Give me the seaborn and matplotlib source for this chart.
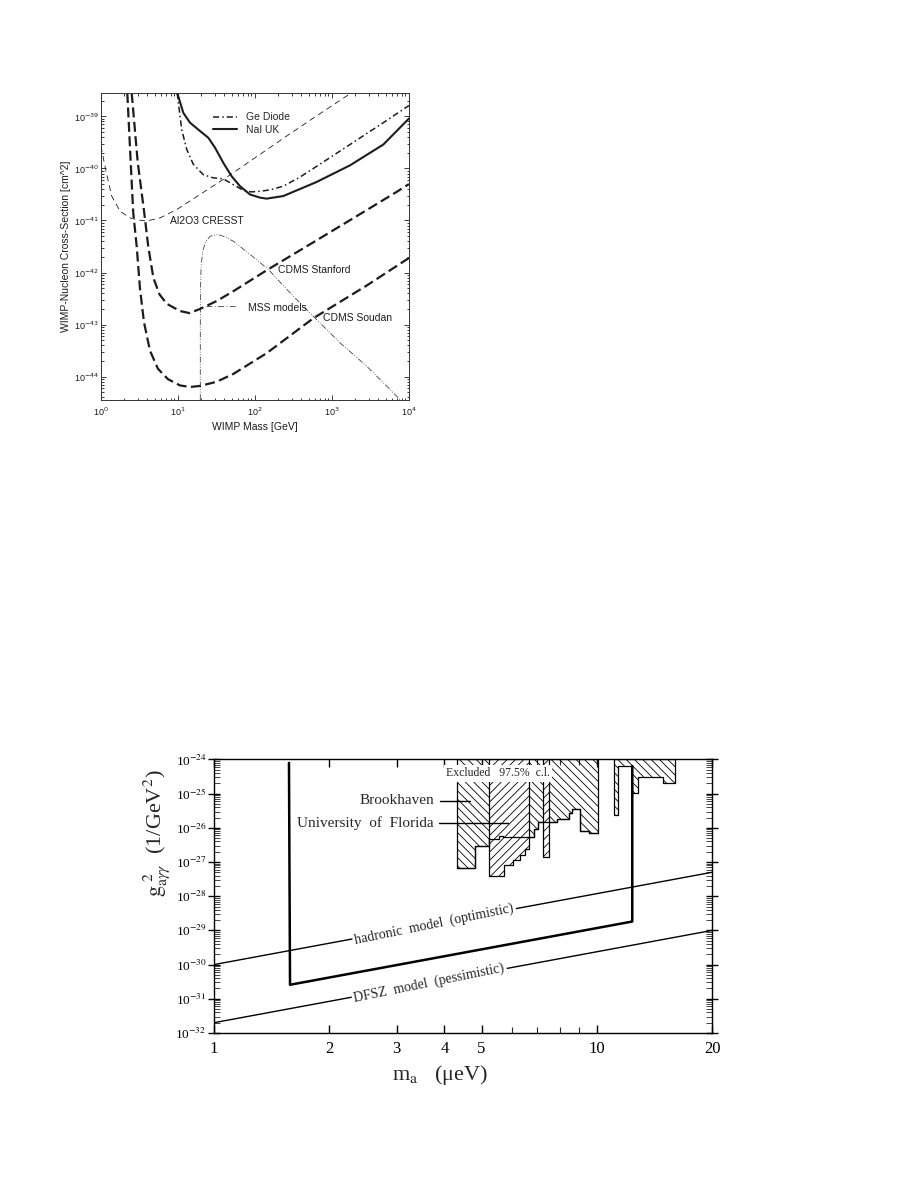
import numpy as np
import matplotlib
matplotlib.use("Agg")
import matplotlib.pyplot as plt
import seaborn as sns
from matplotlib.lines import Line2D
from matplotlib.ticker import LogLocator, FixedLocator, NullFormatter

# ---------------- top panel: WIMP limits ----------------
# log10(mass / GeV) and log10(cross-section / cm^2)
ge_log_m = [0.99, 1.048, 1.113, 1.199, 1.329, 1.458, 1.588, 1.718, 1.848, 1.95, 2.065,
            2.2, 2.368, 2.58, 2.80, 3.234, 3.667, 4.0]
ge_log_s = [-38.55, -39.25, -39.63, -39.92, -40.12, -40.18, -40.2, -40.31, -40.42, -40.45,
            -40.44, -40.41, -40.34, -40.17, -39.96, -39.54, -39.12, -38.79]

nai_log_m = [0.991, 1.069, 1.156, 1.286, 1.394, 1.481, 1.588, 1.697, 1.805, 1.935, 2.065,
             2.152, 2.368, 2.80, 3.234, 3.667, 4.0]
nai_log_s = [-38.55, -38.93, -39.12, -39.28, -39.41, -39.60, -39.89, -40.15, -40.34, -40.50,
             -40.56, -40.58, -40.53, -40.26, -39.94, -39.54, -39.04]

cresst_log_m = [0.0, 0.052, 0.139, 0.247, 0.377, 0.48, 0.594, 0.766, 0.983, 1.286, 1.61,
                2.065, 2.368, 2.80, 3.28]
cresst_log_s = [-39.57, -39.96, -40.53, -40.82, -40.95, -40.99, -41.01, -40.95, -40.79,
                -40.5, -40.19, -39.73, -39.42, -38.99, -38.52]

stanford_log_m = [0.399, 0.477, 0.562, 0.614, 0.68, 0.76, 0.853, 1.026, 1.15, 1.286, 1.5,
                  1.718, 2.17, 2.757, 3.451, 3.84, 4.0]
stanford_log_s = [-38.55, -39.88, -40.85, -41.50, -42.1, -42.42, -42.6, -42.74, -42.78,
                  -42.7, -42.55, -42.36, -41.94, -41.42, -40.80, -40.45, -40.30]

soudan_log_m = [0.342, 0.386, 0.419, 0.464, 0.506, 0.558, 0.636, 0.740, 0.870, 1.026, 1.156,
                1.286, 1.5, 1.718, 2.152, 2.757, 3.451, 4.0]
soudan_log_s = [-38.55, -39.88, -40.85, -41.50, -42.3, -42.95, -43.5, -43.85, -44.05, -44.17,
                -44.2, -44.18, -44.1, -43.95, -43.55, -42.88, -42.25, -41.72]

mss_log_m = [1.29, 1.29, 1.293, 1.30, 1.32, 1.36, 1.42, 1.52, 1.62, 1.72, 1.935, 2.173,
             2.455, 2.757, 3.104, 3.451, 3.796, 3.9]
mss_log_s = [-44.45, -43.0, -42.3, -41.9, -41.6, -41.4, -41.3, -41.27, -41.32, -41.4,
             -41.65, -41.94, -42.39, -42.84, -43.35, -43.8, -44.31, -44.47]
mss_pointer_log_m = [1.36, 1.76]
mss_pointer_log_s = [-42.65, -42.65]

# ---------------- bottom panel: axion search ----------------
# m_a in micro-eV, log10(g^2 / GeV^-2)
hadronic_m = [1, 20]
hadronic_log_g = [-30.0, -27.3]
dfsz_m = [1, 20]
dfsz_log_g = [-31.7, -29.0]
contour_m = [1.57, 1.58, 12.38, 12.38]
contour_log_g = [-24.10, -30.59, -28.74, -24.19]

bnl_edges = [4.31, 4.81, 5.24, 5.55, 5.69, 6.85, 7.02, 7.87, 8.46, 8.61, 9.04, 9.54, 10.07]
bnl_log_floor = [-27.17, -26.53, -26.32, -26.24, -26.28, -26.03, -25.84, -25.74, -25.57,
                 -25.45, -26.09, -26.15]
bnl_high_edges = [11.09, 11.38, 12.34, 12.84, 14.92, 16.01]
bnl_high_log_floor = [-25.62, -24.18, -24.99, -24.50, -24.68]
uf_edges = [5.24, 5.72, 6.04, 6.30, 6.49, 6.65]
uf_log_floor = [-27.42, -27.09, -26.94, -26.79, -26.62]
uf_bar_edges = [7.24, 7.52]
uf_bar_log_floor = [-26.85]

sns.set_theme(style="ticks")
plt.rcParams["font.family"] = ["Liberation Sans", "DejaVu Sans"]
plt.rcParams["hatch.linewidth"] = 0.6
plt.rcParams["axes.linewidth"] = 0.8

ink = "#1c1c1c"
fig = plt.figure(figsize=(9.18, 11.88), dpi=100)


def draw_log(ax, log_x, log_y, **kws):
    sns.lineplot(x=10.0 ** np.asarray(log_x), y=10.0 ** np.asarray(log_y), ax=ax,
                 estimator=None, sort=False, **kws)


# ---- top panel
ax1 = fig.add_axes([0.110, 0.6633, 0.3355, 0.2584])
ax1.set_xscale("log")
ax1.set_yscale("log")
ax1.set_xlim(1, 1e4)
ax1.set_ylim(10 ** -44.45, 10 ** -38.55)

ge_ls = (0, (4, 2, 1, 2))
draw_log(ax1, cresst_log_m, cresst_log_s, color=ink, lw=0.6, linestyle=(0, (7, 5)))
draw_log(ax1, mss_log_m, mss_log_s, color="#444444", lw=0.6, linestyle=(0, (7, 2, 1, 2, 1, 2)))
draw_log(ax1, mss_pointer_log_m, mss_pointer_log_s, color="#444444", lw=0.6,
         linestyle=(0, (7, 3, 1, 3)))
draw_log(ax1, stanford_log_m, stanford_log_s, color=ink, lw=1.6, linestyle=(0, (4.5, 2)))
draw_log(ax1, soudan_log_m, soudan_log_s, color=ink, lw=1.6, linestyle=(0, (4.5, 2)))
draw_log(ax1, ge_log_m, ge_log_s, color=ink, lw=1.1, linestyle=ge_ls)
draw_log(ax1, nai_log_m, nai_log_s, color=ink, lw=1.5)

ax1.legend(handles=[Line2D([], [], color=ink, lw=1.1, linestyle=ge_ls),
                    Line2D([], [], color=ink, lw=1.5)],
           labels=["Ge Diode", "NaI UK"], loc="upper left", bbox_to_anchor=(0.3636, 0.937),
           frameon=False, fontsize=7.5, handlelength=2.3, handletextpad=0.85,
           labelspacing=0.25, borderpad=0, borderaxespad=0)

lab_kw = dict(fontsize=7.5, color=ink, va="center", ha="left")
ax1.text(10 ** 0.896, 10 ** -41.01, "Al2O3 CRESST", **lab_kw)
ax1.text(10 ** 2.30, 10 ** -41.96, "CDMS Stanford", **lab_kw)
ax1.text(10 ** 1.913, 10 ** -42.68, "MSS models", **lab_kw)
ax1.text(10 ** 2.887, 10 ** -42.88, "CDMS Soudan", **lab_kw)

ax1.set_xticks([1, 10, 100, 1000, 10000],
               labels=[r"10$^{0}$", r"10$^{1}$", r"10$^{2}$", r"10$^{3}$", r"10$^{4}$"],
               fontsize=6.5, math_fontfamily="dejavusans")
ax1.set_yticks([10.0 ** e for e in range(-44, -38)],
               labels=[r"10$^{%d}$" % e for e in range(-44, -38)],
               fontsize=6.5, math_fontfamily="dejavusans")
ax1.xaxis.set_minor_locator(LogLocator(base=10, subs=np.arange(2, 10), numticks=50))
ax1.yaxis.set_minor_locator(LogLocator(base=10, subs=np.arange(2, 10), numticks=80))
ax1.xaxis.set_minor_formatter(NullFormatter())
ax1.yaxis.set_minor_formatter(NullFormatter())
ax1.tick_params(which="both", direction="in", top=True, right=True, colors=ink, width=0.6)
ax1.tick_params(which="major", length=3.5)
ax1.tick_params(which="minor", length=1.8)
ax1.tick_params(axis="y", pad=1.5)
ax1.tick_params(axis="x", pad=4)
ax1.set_xlabel("WIMP Mass [GeV]", fontsize=7.5, color=ink)
ax1.set_ylabel("WIMP-Nucleon Cross-Section [cm^2]", fontsize=7.5, color=ink)
ax1.xaxis.set_label_coords(0.5, -0.072)
ax1.yaxis.set_label_coords(-0.097, 0.5)
for s in ax1.spines.values():
    s.set_color("#333333")
    s.set_linewidth(0.7)

# ---- bottom panel
serif = ["Liberation Serif", "DejaVu Serif"]
ax2 = fig.add_axes([0.2331, 0.1305, 0.5425, 0.2302])
ax2.set_xscale("log")
ax2.set_yscale("log")
ax2.set_xlim(1, 20)
ax2.set_ylim(1e-32, 1e-24)

top = 1e-24
bnl_floor = 10.0 ** np.asarray(bnl_log_floor)
ax2.fill_between(bnl_edges, np.append(bnl_floor, bnl_floor[-1]), top, step="post",
                 facecolor="none", edgecolor="black", hatch="\\\\\\\\", lw=0.9, zorder=1)
hi_floor = 10.0 ** np.asarray(bnl_high_log_floor)
ax2.fill_between(bnl_high_edges, np.append(hi_floor, hi_floor[-1]), top, step="post",
                 facecolor="none", edgecolor="black", hatch="\\\\\\\\", lw=0.9, zorder=1)
for edges, floor in [(uf_edges, uf_log_floor), (uf_bar_edges, uf_bar_log_floor)]:
    f = 10.0 ** np.asarray(floor)
    ax2.fill_between(edges, np.append(f, f[-1]), top, step="post", facecolor="white",
                     edgecolor="black", hatch="////", lw=0.9, zorder=2)
ax2.step(bnl_edges, np.append(bnl_floor, bnl_floor[-1]), where="post", color="black",
         lw=0.9, zorder=3)

sns.lineplot(x=hadronic_m, y=10.0 ** np.asarray(hadronic_log_g), ax=ax2, estimator=None,
             sort=False, color="black", lw=1.0)
sns.lineplot(x=dfsz_m, y=10.0 ** np.asarray(dfsz_log_g), ax=ax2, estimator=None,
             sort=False, color="black", lw=1.0)
sns.lineplot(x=contour_m, y=10.0 ** np.asarray(contour_log_g), ax=ax2, estimator=None,
             sort=False, color="black", lw=1.8)


def on_line(m, xs, log_g):
    return 10.0 ** np.interp(np.log10(m), np.log10(xs), log_g)


def line_angle(xs, log_g):
    p0 = ax2.transData.transform((xs[0], 10.0 ** log_g[0]))
    p1 = ax2.transData.transform((xs[1], 10.0 ** log_g[1]))
    return np.degrees(np.arctan2(p1[1] - p0[1], p1[0] - p0[0]))


box = dict(boxstyle="square,pad=0.15", fc="white", ec="none")
ax2.text(3.76, on_line(3.76, hadronic_m, hadronic_log_g), "hadronic  model  (optimistic)",
         rotation=line_angle(hadronic_m, hadronic_log_g) + 1.0, rotation_mode="anchor",
         ha="center", va="center", fontsize=10, family=serif, bbox=box, zorder=4)
ax2.text(3.65, on_line(3.65, dfsz_m, dfsz_log_g), "DFSZ  model  (pessimistic)",
         rotation=line_angle(dfsz_m, dfsz_log_g) + 1.0, rotation_mode="anchor",
         ha="center", va="center", fontsize=10, family=serif, bbox=box, zorder=4)
ax2.text(5.52, 10 ** -24.40, "Excluded   97.5%  c.l.", ha="center", va="center",
         fontsize=8.5, family=serif, bbox=dict(boxstyle="square,pad=0.2", fc="white",
                                               ec="none"), zorder=5)

ax2.text(3.76, 10 ** -25.20, "Brookhaven", ha="right", va="center", fontsize=11,
         family=serif)
ax2.text(3.74, 10 ** -25.86, "University  of  Florida", ha="right", va="center",
         fontsize=11, family=serif)
ax2.plot([3.89, 4.67], [10 ** -25.20] * 2, color="black", lw=1.0, zorder=6)
ax2.plot([3.88, 5.87], [10 ** -25.86] * 2, color="black", lw=1.0, zorder=6)

ax2.set_xticks([1, 2, 3, 4, 5, 10, 20], labels=["1", "2", "3", "4", "5", "10", "20"],
               fontsize=12, family=serif)
ax2.xaxis.set_minor_locator(FixedLocator([6, 7, 8, 9]))
ax2.xaxis.set_minor_formatter(NullFormatter())
ax2.set_yticks([10.0 ** e for e in range(-32, -23)],
               labels=[r"10$^{%d}$" % e for e in range(-32, -23)],
               fontsize=9.5, family=serif, math_fontfamily="stix")
ax2.yaxis.set_minor_locator(LogLocator(base=10, subs=np.arange(2, 10), numticks=100))
ax2.yaxis.set_minor_formatter(NullFormatter())
ax2.tick_params(axis="x", which="major", direction="in", length=6, width=1.0, top=True,
                pad=6, colors="black")
ax2.tick_params(axis="x", which="minor", direction="in", length=4, width=0.8, top=True)
ax2.tick_params(axis="y", which="major", direction="inout", length=9, width=1.0,
                right=True, pad=1, colors="black")
ax2.tick_params(axis="y", which="minor", direction="in", length=4, width=0.6, right=True)

ax2.set_xlabel("m$_{\\mathrm{a}}$   (μeV)", fontsize=16, family=serif,
               math_fontfamily="stix")
ax2.xaxis.set_label_coords(0.454, -0.11)
ax2.set_ylabel(r"$\mathrm{g}_{\mathrm{a}\gamma\gamma}^{\ 2}$  (1/GeV$^{2}$)", fontsize=16,
               family=serif, math_fontfamily="stix")
ax2.yaxis.set_label_coords(-0.084, 0.729)
for s in ax2.spines.values():
    s.set_color("black")
    s.set_linewidth(1.0)

fig.savefig("out.png", dpi=100, facecolor="white")
